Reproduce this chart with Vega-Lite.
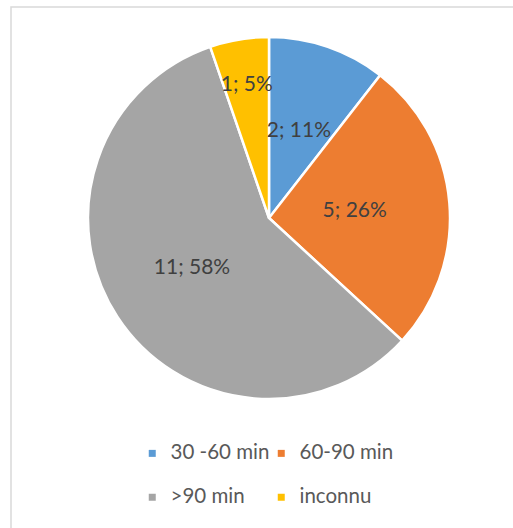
{
  "$schema": "https://vega.github.io/schema/vega-lite/v6.json",
  "width": 513,
  "height": 528,
  "autosize": {"type": "fit", "contains": "padding"},
  "padding": {"left": 10, "top": 6, "right": -3, "bottom": -3},
  "background": "white",
  "config": {"view": {"stroke": null}},
  "data": {
    "values": [
      {"cat": "30 -60 min", "n": 2, "label": "2; 11%", "order": 1},
      {"cat": "60-90 min", "n": 5, "label": "5; 26%", "order": 2},
      {"cat": ">90 min", "n": 11, "label": "11; 58%", "order": 3},
      {"cat": "inconnu", "n": 1, "label": "1; 5%", "order": 4}
    ]
  },
  "layer": [
    {
      "data": {"values": [{}]},
      "mark": {"type": "rect", "fill": null, "stroke": "#d9d9d9", "strokeWidth": 1.5},
      "encoding": {
        "x": {"value": 0},
        "x2": {"value": "width"},
        "y": {"value": 0},
        "y2": {"value": "height"}
      }
    },
    {
      "mark": {"type": "arc", "outerRadius": 181, "x": 258, "y": 211, "stroke": "white", "strokeWidth": 2.5},
      "encoding": {
        "theta": {"field": "n", "type": "quantitative", "stack": true},
        "order": {"field": "order", "type": "quantitative"},
        "color": {
          "field": "cat",
          "type": "nominal",
          "scale": {"domain": ["30 -60 min", "60-90 min", ">90 min", "inconnu"], "range": ["#5B9BD5", "#ED7D31", "#A5A5A5", "#FFC000"]},
          "legend": {
            "title": null,
            "orient": "none",
            "direction": "horizontal",
            "legendX": 131,
            "legendY": 436,
            "columns": 2,
            "columnPadding": 1,
            "rowPadding": 23,
            "symbolType": "square",
            "symbolSize": 49,
            "symbolStrokeWidth": 0,
            "labelFont": "Lato",
            "labelFontSize": 20.5,
            "labelColor": "#595959",
            "labelOffset": 8,
            "padding": 0
          }
        }
      }
    },
    {
      "mark": {"type": "text", "x": 258, "y": 211, "radius": {"expr": "datum.cat == 'inconnu' ? 135 : (datum.cat == '60-90 min' ? 86 : 92)"}, "font": "Lato", "fontSize": 21, "color": "#404040", "align": "center", "baseline": "middle"},
      "encoding": {
        "theta": {"field": "n", "type": "quantitative", "stack": true},
        "order": {"field": "order", "type": "quantitative"},
        "text": {"field": "label", "type": "nominal"}
      }
    }
  ]
}
